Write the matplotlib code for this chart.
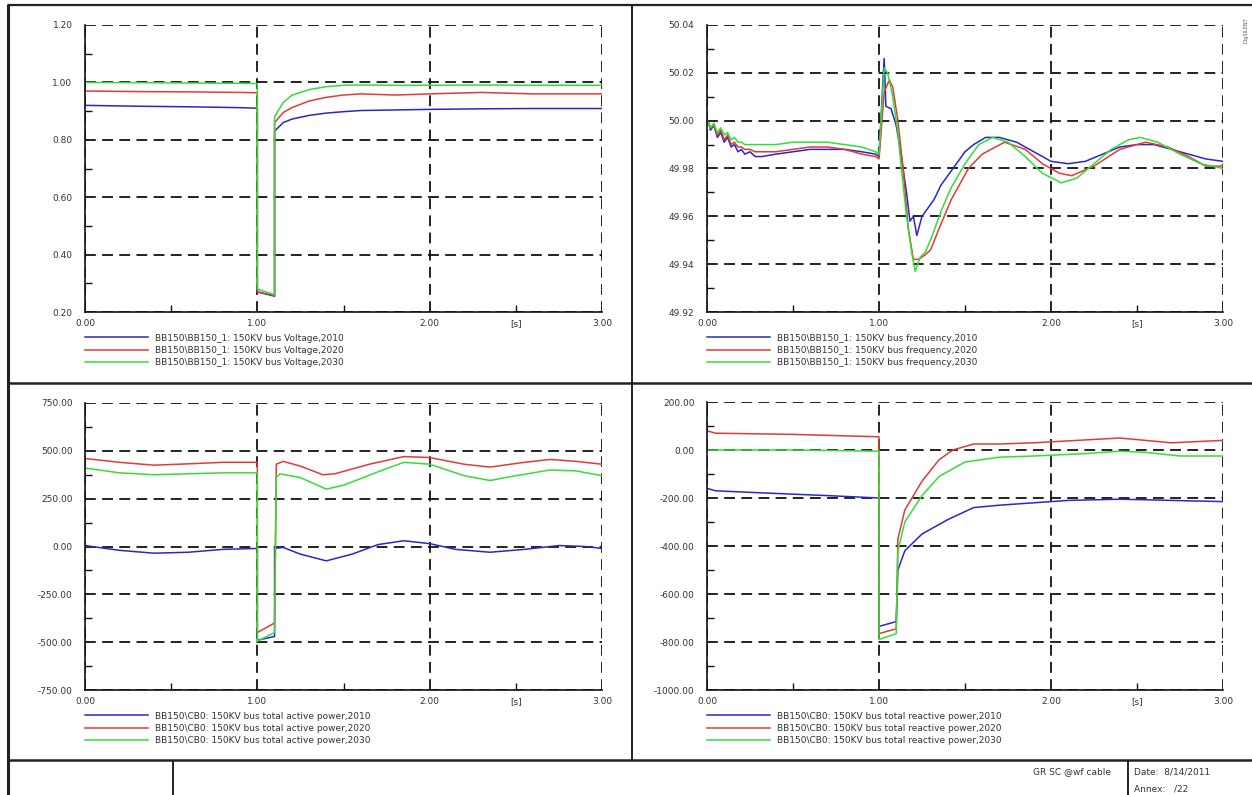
import matplotlib
matplotlib.use("Agg")
import matplotlib.pyplot as plt
from matplotlib.lines import Line2D

# ---- data (time [s], value) ----
YEARS = ["2010", "2020", "2030"]
COLORS = ["#2828c8", "#e03a3a", "#36dc36"]

# bus voltage [p.u.]
volt_t_2010 = [0.0, 0.3, 0.6, 0.9, 1.0, 1.0, 1.1, 1.1, 1.15, 1.2, 1.3, 1.4, 1.5, 1.6, 1.8, 2.0, 2.3, 2.6, 3.0]
volt_v_2010 = [0.92, 0.917, 0.915, 0.912, 0.91, 0.27, 0.255, 0.83, 0.86, 0.872, 0.885, 0.893, 0.898, 0.902, 0.904, 0.906, 0.908, 0.909, 0.909]
volt_t_2020 = [0.0, 0.3, 0.6, 0.9, 1.0, 1.0, 1.1, 1.1, 1.15, 1.2, 1.3, 1.4, 1.5, 1.6, 1.8, 2.0, 2.3, 2.6, 3.0]
volt_v_2020 = [0.97, 0.968, 0.967, 0.965, 0.964, 0.27, 0.258, 0.86, 0.895, 0.912, 0.935, 0.948, 0.956, 0.96, 0.956, 0.96, 0.965, 0.96, 0.96]
volt_t_2030 = [0.0, 0.3, 0.6, 0.9, 1.0, 1.0, 1.1, 1.1, 1.15, 1.2, 1.3, 1.4, 1.5, 1.6, 1.8, 2.0, 2.3, 2.6, 3.0]
volt_v_2030 = [1.0, 0.999, 0.998, 0.997, 0.996, 0.28, 0.26, 0.88, 0.93, 0.955, 0.975, 0.985, 0.99, 0.991, 0.99, 0.99, 0.991, 0.99, 0.99]

# bus frequency [Hz]
freq_t_2010 = [0.0, 0.01, 0.02, 0.04, 0.06, 0.08, 0.10, 0.12, 0.14, 0.16, 0.18, 0.20, 0.22, 0.25, 0.28, 0.32,
               0.4, 0.5, 0.6, 0.7, 0.8, 0.9, 0.98, 1.0, 1.03, 1.04, 1.07, 1.1, 1.13, 1.16, 1.18, 1.2, 1.22,
               1.25, 1.28, 1.32, 1.36, 1.4, 1.45, 1.5, 1.55, 1.62, 1.7, 1.8, 1.9, 2.0, 2.1, 2.2, 2.3, 2.4,
               2.5, 2.6, 2.7, 2.8, 2.9, 3.0]
freq_v_2010 = [50.000, 49.999, 49.996, 49.998, 49.993, 49.995, 49.991, 49.993, 49.989, 49.990, 49.987, 49.988,
               49.986, 49.987, 49.985, 49.985, 49.986, 49.987, 49.988, 49.988, 49.988, 49.987, 49.986, 49.985,
               50.026, 50.006, 50.005, 49.998, 49.985, 49.970, 49.958, 49.960, 49.952, 49.960, 49.963, 49.967,
               49.973, 49.977, 49.982, 49.987, 49.990, 49.993, 49.993, 49.991, 49.987, 49.983, 49.982, 49.983,
               49.986, 49.989, 49.990, 49.990, 49.988, 49.986, 49.984, 49.983]
freq_t_2020 = [0.0, 0.01, 0.02, 0.04, 0.06, 0.08, 0.10, 0.12, 0.14, 0.16, 0.18, 0.20, 0.22, 0.25, 0.28, 0.32,
               0.4, 0.5, 0.6, 0.7, 0.8, 0.9, 0.98, 1.0, 1.03, 1.06, 1.08, 1.11, 1.14, 1.17, 1.2, 1.23, 1.27,
               1.3, 1.35, 1.42, 1.52, 1.6, 1.73, 1.85, 1.95, 2.05, 2.12, 2.25, 2.4, 2.55, 2.68, 2.8, 2.9, 3.0]
freq_v_2020 = [50.000, 49.999, 49.997, 49.998, 49.994, 49.996, 49.992, 49.994, 49.990, 49.991, 49.989, 49.989,
               49.988, 49.988, 49.987, 49.987, 49.987, 49.988, 49.989, 49.989, 49.988, 49.986, 49.985, 49.984,
               50.012, 50.017, 50.014, 50.000, 49.980, 49.955, 49.942, 49.942, 49.944, 49.946, 49.955, 49.967,
               49.980, 49.986, 49.991, 49.988, 49.982, 49.978, 49.977, 49.981, 49.988, 49.991, 49.989, 49.985,
               49.981, 49.981]
freq_t_2030 = [0.0, 0.01, 0.02, 0.04, 0.06, 0.08, 0.10, 0.12, 0.14, 0.16, 0.18, 0.20, 0.22, 0.25, 0.28, 0.32,
               0.4, 0.5, 0.6, 0.7, 0.8, 0.9, 0.98, 1.0, 1.03, 1.05, 1.08, 1.11, 1.13, 1.16, 1.19, 1.21, 1.24,
               1.27, 1.31, 1.36, 1.42, 1.5, 1.58, 1.66, 1.75, 1.85, 1.95, 2.06, 2.15, 2.25, 2.35, 2.45, 2.52,
               2.62, 2.75, 2.87, 3.0]
freq_v_2030 = [50.000, 49.999, 49.997, 49.999, 49.995, 49.997, 49.994, 49.995, 49.992, 49.993, 49.991, 49.991,
               49.990, 49.990, 49.990, 49.990, 49.990, 49.991, 49.991, 49.991, 49.990, 49.989, 49.987, 49.986,
               50.022, 50.020, 50.010, 49.995, 49.980, 49.960, 49.945, 49.937, 49.943, 49.945, 49.952, 49.962,
               49.972, 49.982, 49.990, 49.993, 49.991, 49.985, 49.978, 49.974, 49.976, 49.982, 49.988, 49.992,
               49.993, 49.991, 49.986, 49.982, 49.980]

# total active power [MW]
p_t_2010 = [0.0, 0.2, 0.4, 0.6, 0.8, 1.0, 1.0, 1.1, 1.1, 1.15, 1.25, 1.4, 1.55, 1.7, 1.85, 2.0, 2.15, 2.35, 2.55, 2.75, 2.9, 3.0]
p_v_2010 = [5, -20, -35, -30, -15, -10, -490, -470, -10, -5, -40, -75, -40, 10, 30, 15, -15, -30, -15, 5, 0, -10]
p_t_2020 = [0.0, 0.2, 0.4, 0.6, 0.8, 1.0, 1.0, 1.1, 1.11, 1.15, 1.25, 1.38, 1.45, 1.65, 1.85, 2.0, 2.2, 2.35, 2.55, 2.7, 2.85, 3.0]
p_v_2020 = [460, 440, 425, 432, 440, 440, -450, -400, 430, 445, 420, 375, 380, 430, 470, 465, 430, 415, 440, 455, 445, 430]
p_t_2030 = [0.0, 0.2, 0.4, 0.6, 0.8, 1.0, 1.0, 1.1, 1.11, 1.13, 1.25, 1.4, 1.5, 1.7, 1.85, 2.0, 2.2, 2.35, 2.5, 2.7, 2.85, 3.0]
p_v_2030 = [410, 385, 375, 380, 385, 385, -495, -450, 360, 380, 360, 300, 320, 390, 440, 430, 370, 345, 370, 400, 395, 370]

# total reactive power [Mvar]
q_t_2010 = [0.0, 0.05, 0.3, 0.7, 1.0, 1.0, 1.1, 1.11, 1.15, 1.25, 1.4, 1.55, 1.7, 1.9, 2.1, 2.4, 2.7, 3.0]
q_v_2010 = [-160, -170, -178, -190, -200, -735, -715, -500, -420, -350, -290, -240, -230, -220, -210, -205, -210, -215]
q_t_2020 = [0.0, 0.05, 0.5, 1.0, 1.0, 1.1, 1.11, 1.15, 1.25, 1.35, 1.43, 1.55, 1.7, 1.9, 2.15, 2.4, 2.55, 2.7, 2.85, 3.0]
q_v_2020 = [80, 70, 65, 55, -765, -745, -370, -250, -130, -40, 0, 25, 25, 30, 40, 50, 40, 30, 35, 40]
q_t_2030 = [0.0, 0.5, 1.0, 1.0, 1.1, 1.11, 1.15, 1.25, 1.35, 1.5, 1.7, 1.9, 2.2, 2.4, 2.55, 2.75, 3.0]
q_v_2030 = [0, 0, -5, -790, -765, -420, -300, -190, -110, -50, -30, -25, -15, -5, -10, -25, -25]

W, H = 1252, 795
TXT = "#333333"
FS = 6.5

fig = plt.figure(figsize=(W / 100, H / 100), dpi=100)
fig.patch.set_facecolor("white")


def px_box(x0, y0, x1, y1):
    return [x0 / W, 1 - y1 / H, (x1 - x0) / W, (y1 - y0) / H]


def panel(rect, series, ylo, yhi, ystep, label_fmt):
    ax = fig.add_axes(px_box(*rect))
    for (t, v), c in zip(series, COLORS):
        ax.plot(t, v, color=c, lw=1.1, zorder=3)
    ax.set_xlim(0, 3)
    ax.set_ylim(ylo, yhi)
    n = int(round((yhi - ylo) / ystep))
    majors = [ylo + i * ystep for i in range(n + 1)]
    minors = [ylo + (i + 0.5) * ystep for i in range(n)]
    ax.set_yticks(majors)
    ax.set_yticklabels([label_fmt.format(m) for m in majors])
    ax.set_yticks(minors, minor=True)
    ax.set_xticks([0, 1, 2, 3])
    ax.set_xticklabels(["0.00", "1.00", "2.00", "3.00"])
    ax.set_xticks([0.5, 1.5, 2.5], minor=True)
    ax.set_xticklabels(["", "", "[s]"], minor=True)
    ax.tick_params(which="both", direction="in", color="#111111", width=1.0,
                   labelsize=FS, labelcolor=TXT)
    ax.tick_params(which="major", length=0)
    ax.tick_params(which="minor", length=5)
    ax.tick_params(axis="y", which="both", pad=9)
    ax.tick_params(axis="x", which="both", pad=5)
    for s in ("top", "right"):
        ax.spines[s].set_visible(False)
    for s in ("left", "bottom"):
        ax.spines[s].set_color("#111111")
        ax.spines[s].set_linewidth(1.2)
        ax.spines[s].set_zorder(4)
    ax.grid(True, which="major", color="#111111", lw=1.3, linestyle=(0, (6, 3.5)))
    ax.set_axisbelow(True)
    return ax


def legend(ax, labels):
    handles = [Line2D([], [], color=c, lw=1.1) for c in COLORS]
    ax.legend(handles, labels, loc="upper left", bbox_to_anchor=(0.0, -0.075),
              frameon=False, fontsize=FS, labelcolor=TXT, handlelength=7.0,
              handletextpad=0.8, labelspacing=0.35, borderpad=0, borderaxespad=0)


ax1 = panel((85, 25, 602, 312),
            [(volt_t_2010, volt_v_2010), (volt_t_2020, volt_v_2020), (volt_t_2030, volt_v_2030)],
            0.2, 1.2, 0.2, "{:.2f}")
legend(ax1, [f"BB150\\BB150_1: 150KV bus Voltage,{y}" for y in YEARS])

ax2 = panel((707, 25, 1223, 312),
            [(freq_t_2010, freq_v_2010), (freq_t_2020, freq_v_2020), (freq_t_2030, freq_v_2030)],
            49.92, 50.04, 0.02, "{:.2f}")
legend(ax2, [f"BB150\\BB150_1: 150KV bus frequency,{y}" for y in YEARS])

ax3 = panel((85, 403, 602, 690),
            [(p_t_2010, p_v_2010), (p_t_2020, p_v_2020), (p_t_2030, p_v_2030)],
            -750, 750, 250, "{:.2f}")
legend(ax3, [f"BB150\\CB0: 150KV bus total active power,{y}" for y in YEARS])

ax4 = panel((707, 402, 1223, 690),
            [(q_t_2010, q_v_2010), (q_t_2020, q_v_2020), (q_t_2030, q_v_2030)],
            -1000, 200, 200, "{:.2f}")
legend(ax4, [f"BB150\\CB0: 150KV bus total reactive power,{y}" for y in YEARS])

# ---- page frame and title block, drawn in pixel coordinates ----
frame = fig.add_axes([0, 0, 1, 1], zorder=-1)
frame.set_xlim(0, W)
frame.set_ylim(H, 0)
frame.axis("off")
k = dict(color="#222222", solid_capstyle="butt")
frame.plot([8, W], [5, 5], lw=1.6, **k)
frame.plot([8, 8], [4, H], lw=2.2, **k)
frame.plot([8, W], [383, 383], lw=1.8, **k)
frame.plot([632, 632], [5, 760], lw=1.4, **k)
frame.plot([8, W], [760, 760], lw=1.8, **k)
frame.plot([173, 173], [760, H], lw=1.4, **k)
frame.plot([1128, 1128], [760, H], lw=1.4, **k)
frame.text(1111, 772, "GR SC @wf cable", ha="right", va="center", fontsize=FS, color=TXT)
frame.text(1134, 772, "Date:  8/14/2011", ha="left", va="center", fontsize=FS, color=TXT)
frame.text(1134, 789, "Annex:   /22", ha="left", va="center", fontsize=FS, color=TXT)
frame.text(1246, 30, "DIgSILENT", ha="center", va="center", rotation=90, fontsize=3.5, color="#555555")

fig.savefig("out.png", dpi=100, facecolor="white")
